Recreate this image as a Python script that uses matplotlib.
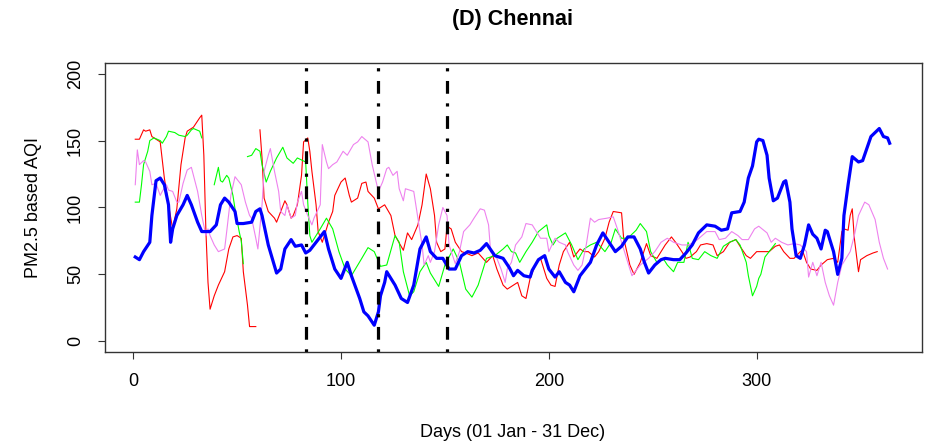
import numpy as np
import matplotlib
matplotlib.use('Agg')
import matplotlib.pyplot as plt

plt.rcParams['font.family'] = ['Liberation Sans', 'DejaVu Sans']

nan = np.nan

# day of year and PM2.5 AQI
blue_days = [1, 3, 5, 8, 9, 11, 13, 15, 17, 18, 19, 21, 24, 26, 28, 31, 33, 37, 40, 42,
             44, 46, 49, 50, 53, 57, 59, 61, 62, 65, 69, 71, 73, 76, 78, 81, 83, 85, 89, 92,
             94, 97, 100, 103, 105, 109, 111, 113, 116, 118, 119, 121, 122, 126, 129, 132, 135, 138, 141, 143,
             146, 149, 152, 155, 158, 161, 164, 167, 170, 174, 178, 181, 183, 185, 188, 191, 192, 195, 198, 200,
             203, 205, 208, 210, 212, 215, 217, 220, 223, 226, 229, 232, 235, 238, 241, 244, 246, 248, 251, 254,
             256, 260, 263, 266, 269, 272, 276, 280, 283, 286, 288, 292, 294, 296, 298, 300, 301, 303, 305, 306,
             308, 310, 313, 314, 316, 317, 319, 321, 323, 325, 327, 329, 331, 333, 334, 337, 339, 341, 342, 344,
             346, 349, 351, 353, 355, 359, 361, 363, 364]
blue_aqi = [63, 61, 67, 74, 94, 120, 122, 117, 102, 74, 84, 94, 102, 109, 102, 89, 82, 82, 87, 102,
            107, 104, 97, 88, 88, 89, 97, 99, 94, 72, 51, 54, 69, 76, 71, 72, 66, 68, 76, 82,
            69, 54, 47, 59, 49, 32, 22, 19, 12, 22, 34, 44, 52, 42, 32, 29, 42, 69, 78, 67,
            62, 62, 54, 54, 64, 67, 66, 68, 73, 64, 62, 55, 49, 53, 49, 48, 53, 61, 64, 54,
            48, 52, 44, 42, 37, 49, 53, 59, 72, 81, 74, 67, 71, 78, 78, 69, 59, 51, 57, 61,
            62, 61, 61, 66, 72, 81, 87, 86, 83, 84, 96, 97, 104, 122, 131, 149, 151, 150, 139, 122,
            105, 107, 119, 120, 104, 84, 64, 62, 72, 87, 80, 77, 69, 83, 82, 67, 50, 62, 94, 117,
            138, 134, 135, 144, 153, 159, 153, 152, 148]

red_days = [1, 3, 5, 6, 8, 9, 13, 15, 17, 19, 21, 23, 25, 26, 29, 32, 33, 34, 35, 36,
            37, 39, 41, 44, 46, 48, 50, 52, 53, 55, 56, 59, 60, 61, 62, 63, 65, 68, 69, 71,
            73, 74, 76, 77, 79, 81, 82, 84, 85, 86, 88, 89, 91, 93, 94, 96, 97, 100, 102, 104,
            105, 108, 110, 112, 113, 116, 118, 121, 124, 126, 130, 132, 134, 137, 139, 141, 143, 145, 146, 148,
            150, 151, 153, 155, 158, 160, 163, 166, 170, 173, 175, 178, 180, 183, 185, 187, 189, 191, 194, 196,
            199, 201, 203, 205, 207, 210, 212, 215, 217, 219, 222, 224, 227, 229, 231, 235, 236, 239, 241, 244,
            247, 249, 252, 254, 256, 259, 261, 264, 266, 268, 271, 273, 276, 279, 281, 284, 287, 290, 292, 295,
            297, 300, 304, 306, 309, 311, 313, 316, 318, 321, 322, 324, 326, 329, 331, 334, 337, 339, 341, 342,
            344, 345, 346, 347, 349, 350, 353, 356, 358]
red_aqi = [151, 151, 158, 157, 158, 153, 149, 122, 102, 84, 99, 132, 152, 157, 160, 167, 169, 139, 82, 44,
           24, 34, 42, 52, 69, 78, 79, 77, 52, 27, 11, 11, nan, 158, 137, 107, 97, 92, 89, 97,
           105, 102, 92, 94, 102, 124, 149, 152, 142, 127, 102, 82, 74, 84, 89, 97, 109, 119, 122, 109,
           104, 107, 118, 119, 112, 107, 99, 102, 94, 79, 68, 81, 76, 87, 102, 125, 114, 94, 74, 67,
           69, 86, 84, 74, 67, 66, 64, 66, 59, 64, 54, 42, 39, 42, 44, 34, 32, 47, 59, 62,
           47, 42, 41, 57, 67, 74, 63, 69, 67, 67, 63, 67, 77, 89, 97, 96, 77, 57, 50, 59,
           73, 64, 62, 67, 72, 78, 74, 67, 62, 63, 67, 72, 73, 72, 64, 67, 74, 76, 71, 64,
           62, 67, 67, 67, 71, 72, 67, 62, 62, 67, 68, 59, 54, 53, 57, 61, 62, 59, 82, 84,
           83, 94, 99, 77, 52, 61, 64, 66, 67]

green_days = [1, 3, 4, 5, 7, 8, 10, 13, 14, 16, 17, 20, 22, 25, 26, 28, 29, 32, 33, 36,
              39, 41, 42, 43, 45, 46, 48, 49, 51, 52, 53, 54, 55, 57, 59, 61, 62, 64, 66, 69,
              72, 74, 77, 79, 83, 84, 85, 86, 90, 93, 96, 99, 102, 105, 110, 113, 116, 119, 122, 126,
              128, 130, 133, 135, 138, 141, 143, 147, 150, 154, 157, 160, 163, 166, 170, 174, 178, 180, 182, 184,
              186, 189, 192, 195, 199, 200, 202, 204, 208, 211, 214, 217, 220, 223, 227, 230, 232, 235, 238, 242,
              244, 247, 249, 252, 255, 257, 260, 262, 265, 267, 269, 272, 275, 278, 281, 284, 287, 290, 292, 295,
              296, 298, 300, 301, 302, 304, 306, 309]
green_aqi = [104, 104, 117, 132, 142, 150, 152, 150, 148, 153, 157, 156, 154, 153, 154, 158, 159, 157, 152, nan,
             117, 130, 120, 119, 124, 122, 109, 99, 82, 75, 58, nan, 138, 139, 144, 142, 132, 119, 127, 137,
             145, 137, 133, 137, 134, 104, 79, 74, 84, 92, 84, 67, 54, 49, 62, 70, 67, 56, 57, 79,
             74, 52, 34, 37, 52, 59, 51, 41, 57, 69, 59, 39, 33, 42, 62, 64, 69, 72, 67, 66,
             59, 67, 74, 82, 87, 79, 72, 77, 81, 72, 61, 69, 72, 74, 67, 74, 84, 77, 77, 83,
             88, 82, 67, 59, 62, 57, 52, 59, 59, 74, 62, 61, 67, 64, 62, 71, 74, 76, 72, 59,
             49, 34, 41, 47, 50, 63, 67, 73]

violet_days = [1, 2, 3, 5, 6, 8, 9, 11, 13, 14, 16, 17, 19, 21, 22, 24, 26, 28, 29, 31,
               33, 35, 36, 37, 39, 41, 44, 45, 47, 49, 52, 54, 56, 57, 59, 60, 62, 63, 65, 66,
               68, 70, 71, 73, 74, 76, 78, 79, 81, 82, 84, 86, 87, 90, 91, 93, 94, 96, 98, 101,
               103, 106, 108, 110, 113, 115, 118, 120, 122, 123, 125, 127, 128, 130, 131, 133, 135, 137, 139, 140,
               142, 143, 145, 147, 149, 151, 152, 155, 157, 159, 162, 164, 167, 169, 171, 172, 175, 177, 179, 180,
               182, 184, 187, 189, 192, 194, 196, 199, 200, 203, 205, 208, 209, 212, 214, 216, 218, 220, 222, 224,
               228, 231, 233, 236, 238, 240, 244, 248, 251, 254, 257, 260, 264, 267, 270, 273, 276, 280, 282, 285,
               288, 291, 293, 296, 299, 301, 305, 307, 309, 312, 315, 318, 321, 324, 325, 327, 329, 331, 333, 335,
               337, 339, 341, 345, 347, 349, 352, 354, 357, 359, 361, 363]
violet_aqi = [117, 143, 132, 135, 134, 127, 117, 118, 109, 112, 117, 113, 112, 104, 104, 118, 128, 130, 124, 112,
              94, 79, 84, 79, 72, 67, 69, 82, 109, 123, 117, 104, 94, 92, 77, 69, 102, 127, 139, 144,
              127, 112, 97, 94, 102, 92, 94, 104, 112, 102, 94, 87, 92, 102, 147, 134, 129, 132, 134, 142,
              139, 147, 149, 153, 149, 132, 112, 119, 129, 130, 124, 127, 114, 105, 114, 113, 112, 92, 72, 57,
              64, 59, 67, 87, 100, 94, 72, 58, 67, 82, 87, 92, 99, 98, 87, 67, 62, 54, 44, 54,
              59, 72, 78, 88, 87, 82, 77, 77, 67, 77, 74, 72, 67, 57, 53, 57, 72, 92, 89, 91,
              92, 93, 84, 69, 59, 49, 57, 62, 67, 74, 77, 74, 72, 72, 74, 78, 82, 82, 76, 77,
              82, 79, 76, 76, 84, 86, 81, 74, 77, 74, 72, 73, 72, 67, 48, 59, 49, 59, 44, 34,
              27, 44, 57, 67, 79, 94, 104, 102, 91, 74, 62, 54]

lockdown_days = [83, 118, 151]

fig = plt.figure(figsize=(9.3, 4.42), dpi=100)
ax = fig.add_axes([0.1129, 0.2036, 0.8785, 0.654])

ax.plot(red_days, red_aqi, color='#FF0000', lw=0.8)
ax.plot(green_days, green_aqi, color='#00FF00', lw=0.8)
ax.plot(violet_days, violet_aqi, color='#EE82EE', lw=0.8)
ax.plot(blue_days, blue_aqi, color='#0000FF', lw=2.3)
for d in lockdown_days:
    ax.axvline(d, color='black', lw=2.3, linestyle=(0, (1, 3, 4, 3)))

ax.set_xlim(-13.56, 379.56)
ax.set_ylim(-8, 208)
ax.set_xticks([0, 100, 200, 300])
ax.set_yticks([0, 50, 100, 150, 200])
ax.tick_params(direction='out', length=5.2, width=0.8, color='#333333',
               labelsize=13, labelcolor='black')
ax.tick_params(axis='x', pad=10)
ax.tick_params(axis='y', pad=10)
for lab in ax.get_yticklabels():
    lab.set_rotation(90)
    lab.set_va('center')
for s in ax.spines.values():
    s.set_color('#333333')
    s.set_linewidth(1.0)

fig.text(0.5516, 0.9548, '(D) Chennai', ha='center', va='center',
         fontsize=15.5, fontweight='bold')
fig.text(0.5516, 0.0226, 'Days (01 Jan - 31 Dec)', ha='center', va='center', fontsize=13)
fig.text(0.0355, 0.5306, 'PM2.5 based AQI', ha='center', va='center', rotation=90, fontsize=13)

fig.savefig('out.png', dpi=100)
